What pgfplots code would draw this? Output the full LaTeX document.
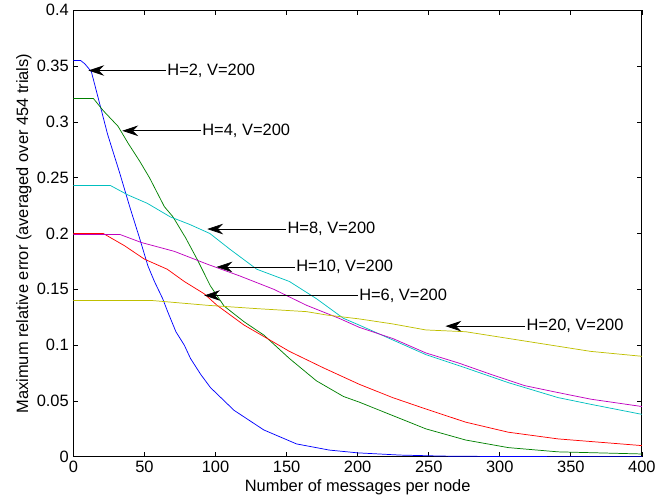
\documentclass[border=0pt]{standalone}
\usepackage{fontspec}
\setmainfont{Liberation Sans}
\usepackage{pgfplots}
\pgfplotsset{compat=1.18}
\usetikzlibrary{arrows.meta}

\definecolor{mblue}{rgb}{0,0,1}
\definecolor{mgreen}{rgb}{0,0.5,0}
\definecolor{mred}{rgb}{1,0,0}
\definecolor{mcyan}{rgb}{0,0.75,0.75}
\definecolor{mmagenta}{rgb}{0.75,0,0.75}
\definecolor{myellow}{rgb}{0.75,0.75,0}

\begin{document}
\begin{tikzpicture}[font=\fontsize{12.4}{14}\selectfont]
\begin{axis}[
    width=429pt, height=337pt,
    scale only axis,
    xmin=0, xmax=400, ymin=0, ymax=0.4,
    xtick={0,50,...,400},
    ytick={0,0.05,...,0.4},
    scaled y ticks=false,
    yticklabel style={/pgf/number format/fixed},
    /pgf/number format/assume math mode=true,
    tick align=inside,
    xtick pos=both, ytick pos=both,
    major tick length=3.75pt,
    tick style={black, line width=0.5pt},
    axis line style={line width=0.6pt},
    xlabel={Number of messages per node},
    ylabel={Maximum relative error (averaged over 454 trials)},
    xlabel style={yshift=2pt},
    ylabel style={yshift=-3pt},
    every axis plot/.append style={line width=0.55pt},
]
% H=2
\addplot[mblue] coordinates {(0,0.355)(5,0.355)(8,0.352)(12.6,0.345)(17.5,0.321)(24,0.289)(32.6,0.254)(39.6,0.224)(46.5,0.196)(52.4,0.171)(57,0.157)(62.8,0.1416)(66.3,0.130)(72.1,0.112)(78,0.100)(82.4,0.088)(89.6,0.0737)(96.4,0.062)(113,0.0416)(134,0.024)(157,0.0115)(180,0.006)(200,0.0035)(230,0.0015)(260,0.0006)(300,0.0002)(400,0.0)};
% H=4
\addplot[mgreen] coordinates {(0,0.321)(14,0.321)(21,0.310)(31.4,0.296)(38.4,0.281)(46.5,0.265)(53.5,0.250)(64,0.224)(70,0.215)(79,0.196)(87,0.177)(96.4,0.153)(106,0.135)(120,0.121)(134,0.109)(152,0.088)(171,0.068)(190,0.054)(201,0.049)(224.5,0.037)(248,0.025)(276,0.015)(306,0.0082)(341,0.0044)(400,0.0025)};
% H=6
\addplot[mred] coordinates {(0,0.200)(21,0.200)(36,0.189)(50,0.177)(66,0.168)(78,0.157)(92,0.146)(101,0.1357)(120,0.118)(134,0.1077)(152,0.0944)(176,0.0796)(201,0.065)(224.6,0.053)(248,0.0428)(276,0.031)(306,0.022)(341,0.016)(400,0.0100)};
% H=8
\addplot[mcyan] coordinates {(0,0.243)(26,0.243)(38.4,0.2345)(52,0.227)(68,0.215)(82,0.208)(96,0.200)(110,0.186)(129,0.168)(152,0.157)(171,0.1416)(190,0.124)(201,0.118)(224.6,0.1047)(248,0.0915)(276,0.0796)(306,0.0664)(341,0.053)(364,0.047)(400,0.038)};
% H=10
\addplot[mmagenta] coordinates {(0,0.199)(33,0.199)(47.6,0.192)(71,0.184)(94,0.1726)(117,0.162)(141,0.150)(164,0.1357)(187,0.124)(201,0.116)(224.6,0.106)(248,0.093)(271,0.084)(294,0.0737)(317.6,0.0637)(341,0.0575)(364,0.0516)(400,0.045)};
% H=20
\addplot[myellow] coordinates {(0,0.140)(55,0.140)(94,0.1357)(129,0.1327)(164,0.130)(178,0.127)(201,0.1235)(224.6,0.119)(248,0.1136)(276,0.112)(306,0.106)(341,0.099)(364,0.0944)(400,0.090)};

% annotations
\tikzset{ann/.style={-{Stealth[length=12pt,width=8pt,inset=4pt]}, black, line width=0.5pt}}
\draw[ann] (axis cs:65,0.346) -- (axis cs:10.5,0.346);
\node[anchor=west, inner sep=1pt] at (axis cs:65,0.346) {H=2, V=200};
\draw[ann] (axis cs:89.6,0.292) -- (axis cs:34.4,0.292);
\node[anchor=west, inner sep=1pt] at (axis cs:89.6,0.292) {H=4, V=200};
\draw[ann] (axis cs:149.6,0.204) -- (axis cs:94.2,0.204);
\node[anchor=west, inner sep=1pt] at (axis cs:149.6,0.204) {H=8, V=200};
\draw[ann] (axis cs:155.7,0.170) -- (axis cs:100.7,0.170);
\node[anchor=west, inner sep=1pt] at (axis cs:155.7,0.170) {H=10, V=200};
\draw[ann] (axis cs:200,0.1445) -- (axis cs:92,0.1445);
\node[anchor=west, inner sep=1pt] at (axis cs:200,0.1445) {H=6, V=200};
\draw[ann] (axis cs:317.8,0.117) -- (axis cs:261.8,0.117);
\node[anchor=west, inner sep=1pt] at (axis cs:317.8,0.117) {H=20, V=200};
\end{axis}
% blank margin at the left, as in the reference
\path ([xshift=-9pt]current bounding box.south west);
\end{tikzpicture}
\end{document}
